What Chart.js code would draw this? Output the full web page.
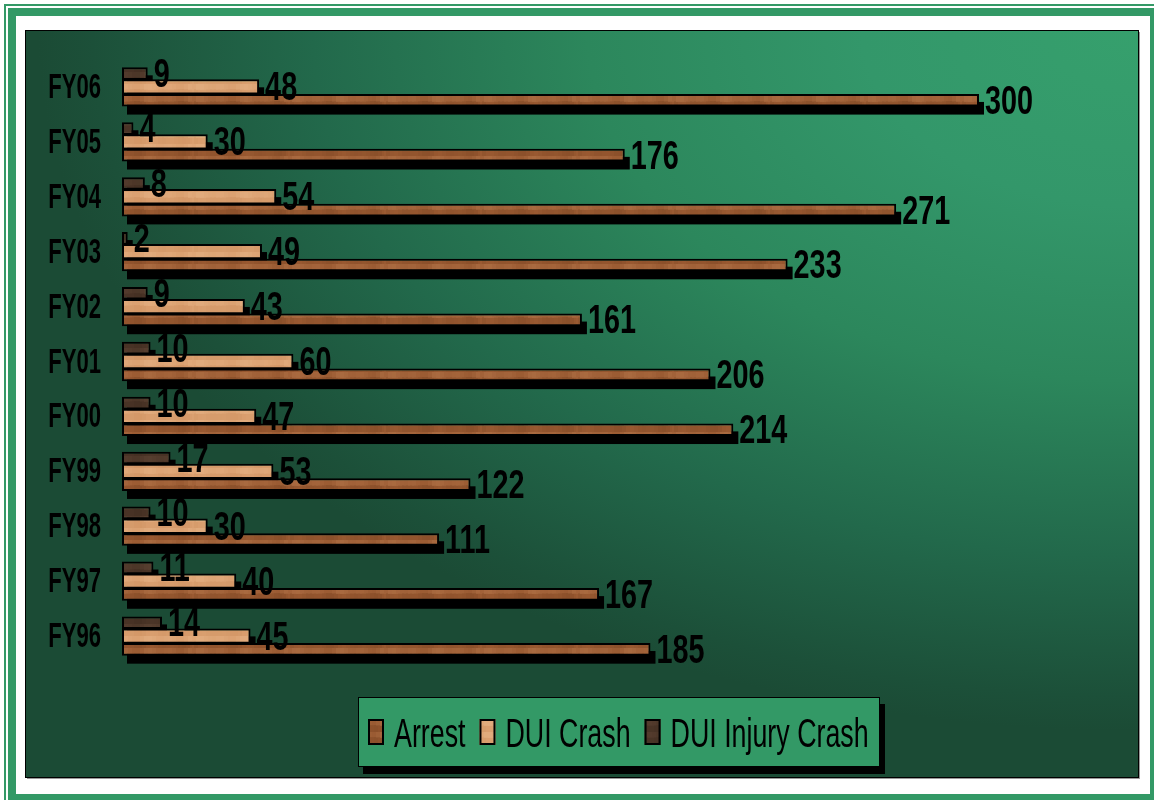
<!DOCTYPE html>
<html>
<head>
<meta charset="utf-8">
<script src="https://cdn.jsdelivr.net/npm/chart.js@4.4.1/dist/chart.umd.min.js"></script>
<style>
  html, body { margin: 0; padding: 0; background: #fff; overflow: hidden; }
</style>
</head>
<body>
<canvas id="duiChart" width="1154" height="800"></canvas>
<script>
// values, top row first
const fiscalYears = ['FY06', 'FY05', 'FY04', 'FY03', 'FY02', 'FY01', 'FY00', 'FY99', 'FY98', 'FY97', 'FY96'];
const arrests = [300, 176, 271, 233, 161, 206, 214, 122, 111, 167, 185];
const duiCrashes = [48, 30, 54, 49, 43, 60, 47, 53, 30, 40, 45];
const injuryCrashes = [9, 4, 8, 2, 9, 10, 10, 17, 10, 11, 14];
const legendOrder = ['Arrest', 'DUI Crash', 'DUI Injury Crash'];

// little wood-grain fill for the bars
function woodPattern(base, light, dark) {
  const c = document.createElement('canvas');
  c.width = 96;
  c.height = 12;
  const g = c.getContext('2d');
  g.fillStyle = base;
  g.fillRect(0, 0, 96, 12);
  for (let x = 0; x < 96; x += 4) {
    const a = 0.5 + 0.5 * Math.sin(x * 0.21) * Math.cos(x * 0.07);
    g.globalAlpha = 0.55 * a;
    g.fillStyle = light;
    g.fillRect(x, 0, 4, 6);
    g.globalAlpha = 0.4 * (1 - a);
    g.fillStyle = dark;
    g.fillRect(x + 2, 5, 4, 7);
  }
  g.globalAlpha = 1;
  return g.createPattern(c, 'repeat');
}

const arrestFill = woodPattern('#9a5a32', '#b87a4e', '#74401e');
const crashFill = woodPattern('#daa070', '#e8b68a', '#c98a5a');
const injuryFill = woodPattern('#4c3628', '#614636', '#3a281d');
const fills = { 'Arrest': arrestFill, 'DUI Crash': crashFill, 'DUI Injury Crash': injuryFill };

function stretchedText(ctx, text, x, y, font, sx, align) {
  ctx.save();
  ctx.font = font;
  ctx.translate(x, y);
  ctx.scale(sx, 1);
  ctx.textAlign = align;
  ctx.textBaseline = 'alphabetic';
  ctx.fillStyle = '#000';
  ctx.fillText(text, 0, 0);
  ctx.restore();
}

const decor = {
  id: 'decor',
  beforeDraw(chart) {
    const ctx = chart.ctx;
    ctx.save();
    ctx.fillStyle = '#fff';
    ctx.fillRect(0, 0, chart.width, chart.height);
    // double green frame
    ctx.fillStyle = '#339966';
    ctx.fillRect(4, 4, 1160, 2);
    ctx.fillRect(4, 4, 2, 800);
    ctx.fillRect(8, 8, 1150, 8);
    ctx.fillRect(8, 8, 8, 800);
    ctx.fillRect(1150, 8, 8, 800);
    ctx.fillRect(8, 794, 1150, 8);
    ctx.fillStyle = '#fff';
    ctx.fillRect(16, 16, 1134, 778);
    // panel
    ctx.fillStyle = '#999';
    ctx.fillRect(27, 32, 1113, 747);
    ctx.fillStyle = '#000';
    ctx.fillRect(25, 30, 1114, 748);
    ctx.translate(1138, 31);
    ctx.scale(1, 700 / 1100);
    const grad = ctx.createRadialGradient(0, 0, 0, 0, 0, 1100);
    grad.addColorStop(0, '#36a06d');
    grad.addColorStop(0.25, '#33976a');
    grad.addColorStop(0.5, '#2c875c');
    grad.addColorStop(0.75, '#22694b');
    grad.addColorStop(0.95, '#1c5039');
    grad.addColorStop(1, '#1b4b35');
    ctx.fillStyle = grad;
    ctx.fillRect(-1112, 0, 1112, 746 * 1100 / 700);
    ctx.restore();
  },
  beforeDatasetsDraw(chart) {
    // hard drop shadow under every bar
    const ctx = chart.ctx;
    ctx.save();
    ctx.fillStyle = '#000';
    chart.data.datasets.forEach((ds, i) => {
      chart.getDatasetMeta(i).data.forEach((bar) => {
        const p = bar.getProps(['x', 'y', 'base', 'height'], true);
        ctx.fillRect(p.base + 5, p.y - p.height / 2 + 8, p.x - p.base, p.height);
      });
    });
    ctx.restore();
  },
  afterDatasetsDraw(chart) {
    const ctx = chart.ctx;
    const area = chart.chartArea;
    const yScale = chart.scales.y;
    // value labels
    chart.data.datasets.forEach((ds, i) => {
      chart.getDatasetMeta(i).data.forEach((bar, j) => {
        const p = bar.getProps(['x', 'y'], true);
        stretchedText(ctx, String(ds.data[j]), p.x + 6, p.y + 13.5, 'bold 40px "Liberation Sans", Arial, sans-serif', 0.72, 'left');
      });
    });
    // category labels
    fiscalYears.forEach((fy, j) => {
      const y = yScale.getPixelForValue(j);
      stretchedText(ctx, fy, area.left - 21, y + 11, 'bold 35px "Liberation Sans", Arial, sans-serif', 0.63, 'right');
    });
    // legend box
    const lx = area.left + 236, ly = area.bottom + 33.5, lw = 522, lh = 70;
    ctx.save();
    ctx.fillStyle = '#000';
    ctx.fillRect(lx + 5, ly + 7, lw, lh);
    ctx.fillStyle = '#339966';
    ctx.fillRect(lx, ly, lw, lh);
    ctx.strokeStyle = '#000';
    ctx.lineWidth = 1;
    ctx.strokeRect(lx + 0.5, ly + 0.5, lw - 1, lh - 1);
    const font = '40px "Liberation Sans", Arial, sans-serif';
    const sx = 0.67;
    ctx.font = font;
    let x = lx + 10;
    const cy = ly + lh / 2;
    legendOrder.forEach((name) => {
      ctx.fillStyle = fills[name];
      ctx.fillRect(x, cy - 13, 16, 26);
      ctx.strokeStyle = '#000';
      ctx.lineWidth = 2;
      ctx.strokeRect(x + 1, cy - 12, 14, 24);
      stretchedText(ctx, name, x + 26, cy + 14.5, font, sx, 'left');
      ctx.font = font;
      x += 26 + ctx.measureText(name).width * sx + 14;
    });
    ctx.restore();
  }
};

new Chart(document.getElementById('duiChart'), {
  type: 'bar',
  data: {
    labels: fiscalYears,
    datasets: [
      { label: 'DUI Injury Crash', data: injuryCrashes, backgroundColor: injuryFill, barPercentage: 0.95 },
      { label: 'DUI Crash', data: duiCrashes, backgroundColor: crashFill, barPercentage: 1.15 },
      { label: 'Arrest', data: arrests, backgroundColor: arrestFill, barPercentage: 0.95 }
    ]
  },
  options: {
    indexAxis: 'y',
    responsive: false,
    animation: false,
    devicePixelRatio: 1,
    layout: { padding: { left: 122, right: 175, top: 59.5, bottom: 136.5 } },
    datasets: {
      bar: {
        borderColor: '#000',
        borderWidth: 2,
        borderSkipped: false,
        categoryPercentage: 0.727
      }
    },
    scales: {
      x: { display: false, min: 0, max: 300 },
      y: { display: false }
    },
    plugins: {
      legend: { display: false },
      tooltip: { enabled: false }
    }
  },
  plugins: [decor]
});
</script>
</body>
</html>
